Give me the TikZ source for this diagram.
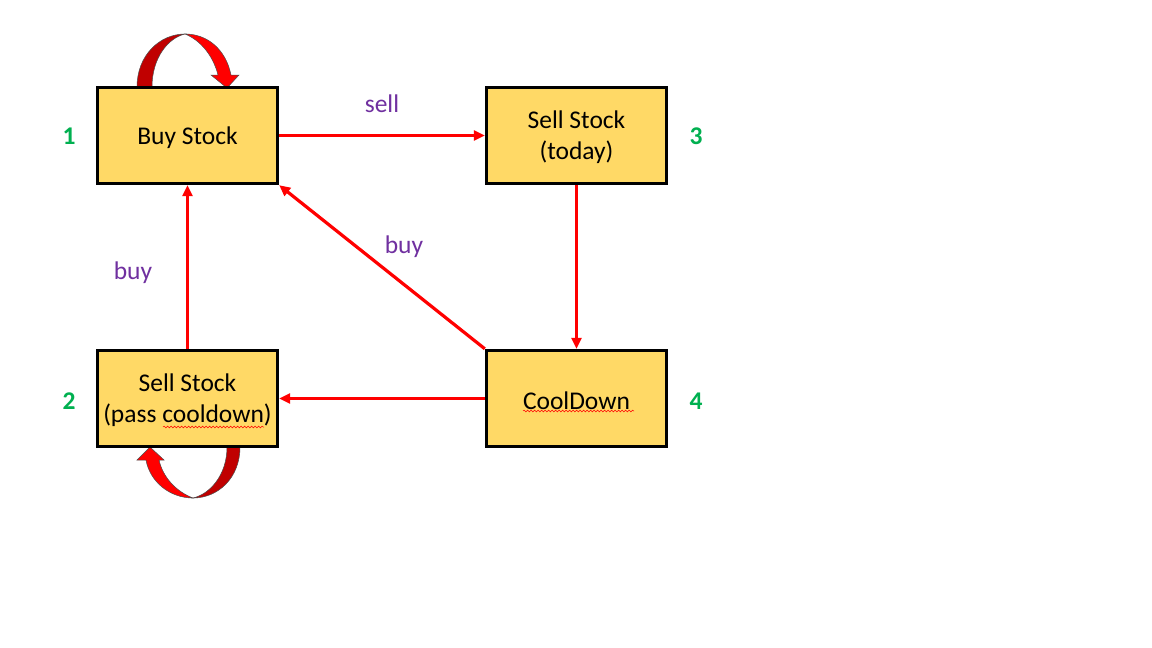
\documentclass[tikz,border=0pt]{standalone}
\usepackage{fontspec}
\setmainfont{Carlito}
\usetikzlibrary{arrows.meta,decorations.pathmorphing}
\definecolor{boxfill}{HTML}{FFD966}
\definecolor{lblpurple}{HTML}{7030A0}
\definecolor{numgreen}{HTML}{00B050}
\definecolor{darkred}{HTML}{C00000}
\tikzset{
  statebox/.style={draw=black, line width=3.4pt, fill=boxfill, minimum width=180pt, minimum height=96pt, inner sep=0pt},
  boxtext/.style={align=center, font=\fontsize{25.5}{31}\selectfont, yshift=-2pt},
  flow/.style={draw=red, line width=3.2pt, -{Triangle[length=11pt,width=10pt]}},
  edgelbl/.style={text=lblpurple, font=\fontsize{25.5}{31}\selectfont},
  numlbl/.style={text=numgreen, font=\fontsize{25.5}{31}\selectfont\bfseries},
  loopback/.style={fill=darkred, draw=black!70, line width=0.5pt},
  loopfront/.style={fill=red, draw=black!70, line width=0.5pt},
  squiggle/.style={draw=red, line width=0.5pt, decorate, decoration={snake, amplitude=0.9pt, segment length=3.5pt}}
}
\begin{document}
\begin{tikzpicture}[x=1pt,y=-1pt]
\useasboundingbox[fill=white] (0,0) rectangle (1152,648);
% self-loop on Buy Stock
\path[loopback] (137,87) .. controls (137,55) and (160,34) .. (185,34) .. controls (168,38) and (152,58) .. (152,87) -- cycle;
\path[loopfront] (185,34) .. controls (208,34) and (226,50) .. (231,75) -- (239,75) -- (227,88) -- (211,75) -- (218,75) .. controls (213,55) and (200,40) .. (185,34) -- cycle;
% self-loop on Sell Stock (pass cooldown)
\path[loopback] (240,447) .. controls (240,478) and (218,498) .. (193,498) .. controls (210,494) and (227,475) .. (227,447) -- cycle;
\path[loopfront] (193,498) .. controls (170,498) and (150,482) .. (146,460) -- (137,460) -- (150,447) -- (164,460) -- (159,460) .. controls (163,478) and (177,492) .. (193,498) -- cycle;
% states
\node[statebox] (buy) at (187.5,135.5) {};
\node[statebox] (sell) at (576.5,135.5) {};
\node[statebox] (pass) at (187.5,398.5) {};
\node[statebox] (cool) at (576.5,398.5) {};
\node[boxtext] (tbuy) at (buy.center) {Buy Stock};
\node[boxtext] (tsell) at (sell.center) {Sell Stock\\(today)};
\node[boxtext] (tpass) at (pass.center) {Sell Stock\\(pass cooldown)};
\node[boxtext] (tcool) at (cool.center) {CoolDown};
% spell-check squiggles
\draw[squiggle] (163,427) -- (264,427);
\draw[squiggle] (523,411) -- (634,411);
% numbers
\node[numlbl] (n1) at (69,136) {1};
\node[numlbl] (n3) at (696,136) {3};
\node[numlbl] (n2) at (69,401) {2};
\node[numlbl] (n4) at (696,401) {4};
% transitions
\draw[flow] (buy.east) -- (sell.west);
\draw[flow] (sell.south) -- (cool.north);
\draw[flow] (cool.west) -- (pass.east);
\draw[flow] (pass.north) -- (buy.south);
\draw[flow] (cool.north west) -- (buy.south east);
% labels
\node[edgelbl] (lsell) at (382,104) {sell};
\node[edgelbl] (lbuy1) at (404,247) {buy};
\node[edgelbl] (lbuy2) at (133,273) {buy};
\end{tikzpicture}
\end{document}
